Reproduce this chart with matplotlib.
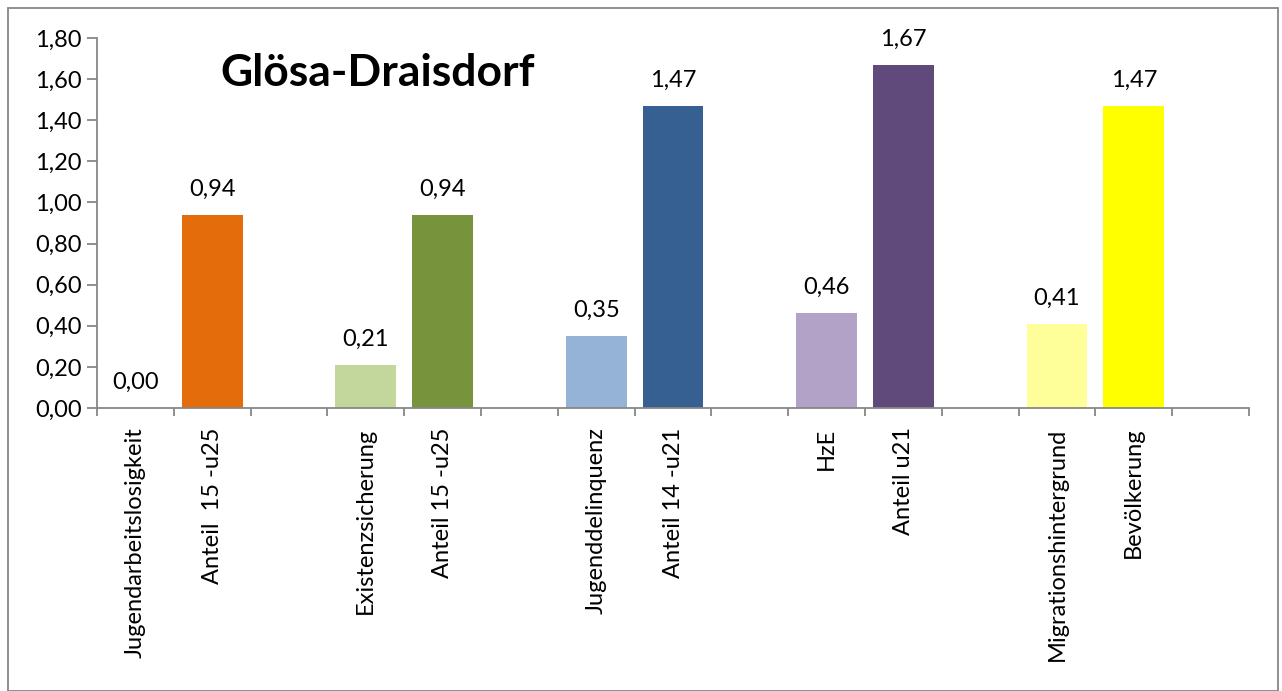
import numpy as np
import matplotlib
matplotlib.use("Agg")
import matplotlib.pyplot as plt
from matplotlib.patches import Rectangle

# data (empty slots are the gaps between groups)
labels = ["Jugendarbeitslosigkeit", "Anteil  15 -u25", "",
          "Existenzsicherung", "Anteil 15 -u25", "",
          "Jugenddelinquenz", "Anteil 14 -u21", "",
          "HzE", "Anteil u21", "",
          "Migrationshintergrund", "Bevölkerung", ""]
values = [0.00, 0.94, np.nan,
          0.21, 0.94, np.nan,
          0.35, 1.47, np.nan,
          0.46, 1.67, np.nan,
          0.41, 1.47, np.nan]
colors = ["#E46C0A", "#E46C0A", "white",
          "#C3D69B", "#77933C", "white",
          "#95B3D7", "#366092", "white",
          "#B3A2C7", "#604A7B", "white",
          "#FFFF99", "#FFFF00", "white"]
title = "Glösa-Draisdorf"

plt.rcParams['font.family'] = ['Lato', 'DejaVu Sans']
W, H = 1282, 691
fs = 17
fig = plt.figure(figsize=(W / 100, H / 100), dpi=100)
ax = fig.add_axes([97 / W, (H - 408) / H, (1249 - 97) / W, (408 - 38) / H])

x = np.arange(len(labels))
for i in range(len(labels)):
    if np.isnan(values[i]):
        continue
    ax.bar(x[i], values[i], width=0.79, color=colors[i], zorder=2)
    ax.annotate(("%.2f" % values[i]).replace(".", ","), (x[i], values[i]),
                xytext=(0, 11), textcoords="offset points",
                ha="center", va="bottom", fontsize=fs)

ax.set_xlim(-0.5, len(labels) - 0.5)
ax.set_ylim(0, 1.8)
yt = np.arange(0, 1.81, 0.2)
ax.set_yticks(yt)
ax.set_yticklabels([("%.2f" % v).replace(".", ",") for v in yt], fontsize=fs)

# major ticks at slot boundaries, labels on minor ticks
ax.set_xticks(np.arange(-0.5, len(labels), 1.0))
ax.set_xticklabels([])
ax.set_xticks(x, minor=True)
ax.set_xticklabels(labels, minor=True, rotation=90, fontsize=fs, va="top")
ax.tick_params(axis="x", which="minor", length=0, pad=14)
ax.tick_params(axis="x", which="major", length=6, color="#878787", width=1.3)
ax.tick_params(axis="y", length=7, color="#878787", width=1.3, pad=4)

for s in ["top", "right"]:
    ax.spines[s].set_visible(False)
for s in ["left", "bottom"]:
    ax.spines[s].set_color("#878787")
    ax.spines[s].set_linewidth(1.3)

fig.text(378 / W, 1 - 73 / H, title, ha="center", va="center",
         fontsize=32, fontweight="bold")

# outer chart frame
fig.patches.append(Rectangle((8 / W, 0), (1278 - 8) / W, (H - 8) / H,
                             transform=fig.transFigure, fill=False,
                             edgecolor="#878787", linewidth=1.3))

fig.savefig("out.png", dpi=100)
